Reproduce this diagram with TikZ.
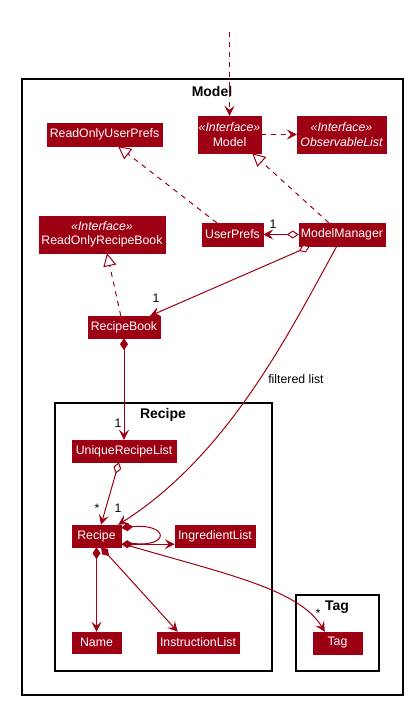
\documentclass[tikz,border=0pt]{standalone}
\usepackage{fontspec}
\setmainfont{Liberation Sans}
\usetikzlibrary{arrows.meta}
\definecolor{mc}{HTML}{9D0012}
\begin{document}
\begin{tikzpicture}[x=1pt,y=-1pt,
  cls/.style={fill=mc,draw=mc,text=white,inner sep=0pt,align=center,
    font=\fontsize{12.3}{14.5}\selectfont},
  pkg/.style={draw=black,line width=1.5pt},
  pkglabel/.style={font=\fontsize{14}{16}\bfseries\selectfont,inner sep=0pt},
  lbl/.style={font=\fontsize{12.3}{14}\selectfont,inner sep=0pt},
  conn/.style={draw=mc,line width=1pt},
  dashconn/.style={conn,dash pattern=on 5pt off 5pt},
  arrowtip/.style={-{Stealth[length=10pt,width=10pt,inset=4pt]}},
  realize/.style={-{Triangle[open,fill=white,length=13pt,width=13pt]}},
  odia/.style={{Diamond[open,fill=white,length=12pt,width=8pt]}-{Stealth[length=10pt,width=10pt,inset=4pt]}},
  fdia/.style={{Diamond[length=12pt,width=8pt]}-{Stealth[length=10pt,width=10pt,inset=4pt]}},
  fdianone/.style={{Diamond[length=12pt,width=8pt]}-}
]
\useasboundingbox (0,0) rectangle (412,705);
% packages
\draw[pkg] (22,79) rectangle (403,695);
\node[pkglabel] (lmodel) at (212,91) {Model};
\draw[pkg] (55,403) rectangle (272,671);
\node[pkglabel] (lrecipe) at (163,415) {Recipe};
\draw[pkg] (296,595) rectangle (379,671);
\node[pkglabel] (ltag) at (337,607) {Tag};
% classes
\node[cls,minimum width=63pt,minimum height=37pt] (model) at (229.5,134.5) {{\itshape «Interface»}\\Model};
\node[cls,minimum width=89pt,minimum height=37pt] (obs) at (341.5,134.5) {\itshape «Interface»\\\itshape ObservableList};
\node[cls,minimum width=115pt,minimum height=23pt] (roup) at (104.5,134.5) {ReadOnlyUserPrefs};
\node[cls,minimum width=126pt,minimum height=37pt] (rorb) at (102,234.5) {{\itshape «Interface»}\\ReadOnlyRecipeBook};
\node[cls,minimum width=61pt,minimum height=23pt] (up) at (232.5,234.5) {UserPrefs};
\node[cls,minimum width=86pt,minimum height=23pt] (mm) at (342,234.5) {ModelManager};
\node[cls,minimum width=72pt,minimum height=22pt] (rb) at (124,327) {RecipeBook};
\node[cls,minimum width=104pt,minimum height=22pt] (url) at (124,451) {UniqueRecipeList};
\node[cls,minimum width=49pt,minimum height=22pt] (recipe) at (96.5,536) {Recipe};
\node[cls,minimum width=80pt,minimum height=22pt] (ing) at (215,536) {IngredientList};
\node[cls,minimum width=49pt,minimum height=21pt] (name) at (96.5,642.5) {Name};
\node[cls,minimum width=82pt,minimum height=21pt] (instr) at (198,642.5) {InstructionList};
\node[cls,minimum width=49pt,minimum height=22pt] (tag) at (337.5,643) {Tag};
% connectors
\coordinate (topend) at (229.5,32);
\draw[dashconn,arrowtip] (topend) -- (model.north);
\draw[dashconn,arrowtip] (model.east) -- (obs.west);
\draw[dashconn,realize] ([xshift=15pt]up.north west) -- ([xshift=13.5pt]roup.south);
\draw[dashconn,realize] ([xshift=30pt]mm.north west) -- ([xshift=-9pt]model.south east);
\draw[conn,odia] (mm.west) -- (up.east);
\node[lbl] (l1) at (273,224) {1};
\draw[conn,odia] ([xshift=11pt]mm.south west) -- ([xshift=-10pt]rb.north east);
\node[lbl] (l2) at (156,298) {1};
\draw[dashconn,realize] ([xshift=33pt]rb.north west) -- ([xshift=5pt]rorb.south);
\draw[conn,fdia] (rb.south) -- (url.north);
\node[lbl] (l3) at (118,423) {1};
\draw[conn,odia] ([xshift=-5pt]url.south) -- ([xshift=4.5pt]recipe.north);
\node[lbl] (l4) at (97,508) {*};
\draw[conn,arrowtip] ([xshift=38pt]mm.south west) .. controls (288,335) and (228,455) .. ([xshift=-3pt]recipe.north east);
\node[lbl] (l5) at (118,508) {1};
\node[lbl] (lfl) at (296,379) {filtered list};
\coordinate (loopend) at (130,543);
\draw[conn,fdianone] ([yshift=-3pt]recipe.north east) .. controls (170,523) and (170,549) .. (loopend);
\draw[conn,fdia] ([yshift=3pt]recipe.south east) -- ([yshift=3pt]ing.south west);
\coordinate (tagstart) at (130,546);
\draw[conn,arrowtip] (tagstart) .. controls (230,575) and (300,590) .. ([xshift=12pt]tag.north west);
\node[lbl] (l6) at (318,613) {*};
\draw[conn,fdia] (recipe.south) -- (name.north);
\draw[conn,fdia] ([xshift=4.5pt]recipe.south) -- ([xshift=21pt]instr.north west);
\end{tikzpicture}
\end{document}
